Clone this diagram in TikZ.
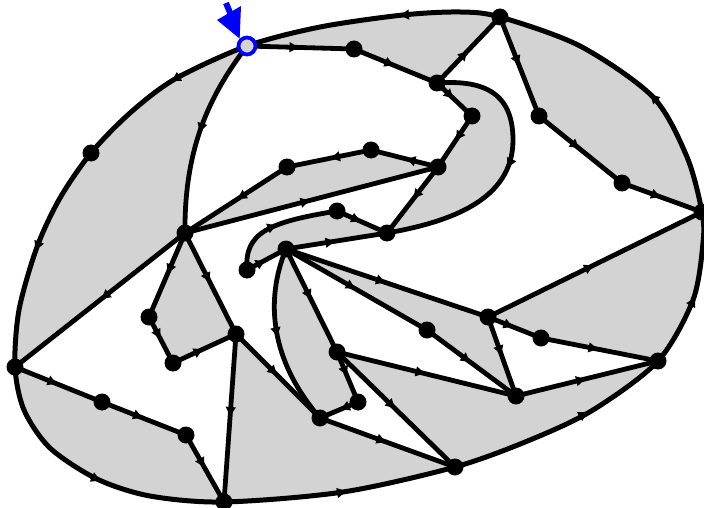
\documentclass[tikz,border=0pt]{standalone}
\usetikzlibrary{arrows.meta,decorations.markings}
\definecolor{facegray}{RGB}{211,211,211}
\begin{document}
\begin{tikzpicture}[x=1pt,y=-1pt,line join=round,
  edge/.style={line width=4.8pt,postaction={decorate},
    decoration={markings,mark=at position 0.5 with {\arrow{Latex[length=11pt,width=11pt]}}}},
  ovarr/.style={line width=4.8pt,-{Latex[length=11pt,width=11pt]}},
  dot/.style={circle,fill=black,inner sep=0pt,minimum size=17pt}]
\useasboundingbox (0,0) rectangle (704,508);
\def\ovalpath{plot[smooth cycle] coordinates {(247,46) (320,27) (403,15) (460,12) (500,17) (580,46) (653,97) (687,157) (702,212) (703,243) (693,300) (658,361) (593,410) (530,440) (455,467) (343,492) (224,502) (150,496) (97,479) (50,448) (24,410) (15,367) (19,310) (37,247) (60,198) (91,153) (130,113) (175,79)}}
% vertices
\coordinate (S) at (247,46);
\coordinate (A) at (354,49);
\coordinate (B) at (500,17);
\coordinate (C) at (437,83);
\coordinate (D) at (472,116);
\coordinate (E) at (539,116);
\coordinate (F) at (622,183);
\coordinate (G) at (702,212);
\coordinate (H) at (438,167);
\coordinate (I) at (371,150);
\coordinate (J) at (287,167);
\coordinate (K) at (185,233);
\coordinate (L) at (91,153);
\coordinate (M) at (337,211);
\coordinate (N) at (387,233);
\coordinate (O) at (247,270);
\coordinate (P) at (286,249);
\coordinate (Q) at (149,317);
\coordinate (R) at (173,363);
\coordinate (T) at (236,334);
\coordinate (U) at (15,367);
\coordinate (V) at (102,402);
\coordinate (W) at (186,435);
\coordinate (X) at (224,502);
\coordinate (Y) at (455,467);
\coordinate (Z) at (320,418);
\coordinate (AA) at (358,402);
\coordinate (AB) at (337,352);
\coordinate (AC) at (427,330);
\coordinate (AD) at (488,317);
\coordinate (AE) at (541,338);
\coordinate (AF) at (658,361);
\coordinate (AG) at (516,396);
% gray faces touching the outer curve
\begin{scope}
\clip \ovalpath;
\fill[facegray] (S) -- (A) -- (C) -- (B) -- (510,-20) -- (240,-20) -- cycle;
\fill[facegray] (B) -- (E) -- (F) -- (G) -- (720,212) -- (720,-20) -- (500,-20) -- cycle;
\fill[facegray] (S) .. controls (212,92) and (184,145) .. (K) -- (U) -- (-10,367) -- (-10,46) -- cycle;
\fill[facegray] (U) -- (V) -- (W) -- (X) -- (224,530) -- (-10,530) -- (-10,367) -- cycle;
\fill[facegray] (T) -- (Z) -- (Y) -- (460,530) -- (224,530) -- (X) -- cycle;
\fill[facegray] (AD) -- (G) -- (720,212) -- (720,362) -- (AF) -- (AE) -- cycle;
\fill[facegray] (AB) -- (AG) -- (AF) -- (720,400) -- (470,530) -- (Y) -- cycle;
\end{scope}
% inner gray faces
\fill[facegray] (K) -- (J) -- (I) -- (H) -- cycle;
\fill[facegray] (C) -- (D) -- (H) -- (N) .. controls (450,222) and (513,200) .. (513,140) .. controls (513,90) and (480,80) .. (C) -- cycle;
\fill[facegray] (O) .. controls (244,232) and (270,222) .. (M) -- (N) -- (P) -- cycle;
\fill[facegray] (K) -- (Q) -- (R) -- (T) -- cycle;
\fill[facegray] (P) .. controls (265,300) and (270,360) .. (Z) -- (AA) -- (AB) -- cycle;
\fill[facegray] (P) -- (AC) -- (AG) -- (AD) -- cycle;
% outer curve
\draw[line width=5pt] \ovalpath;
\draw[ovarr] (410,14.5) -- (398,15.5);
\draw[ovarr] (181,75.5) -- (170,82);
\draw[ovarr] (39.5,241) -- (35,252);
\draw[ovarr] (91,476.5) -- (102,481.5);
\draw[ovarr] (337,493) -- (348,491);
\draw[ovarr] (579,417) -- (589,411);
\draw[ovarr] (690.5,306) -- (696,296);
\draw[ovarr] (657.5,101.5) -- (649,93);
% edges
\draw[edge] (S) -- (A);
\draw[edge] (A) -- (C);
\draw[edge] (C) -- (B);
\draw[edge] (B) -- (E);
\draw[edge] (E) -- (F);
\draw[edge] (F) -- (G);
\draw[edge] (C) -- (D);
\draw[edge] (D) -- (H);
\draw[edge] (C) .. controls (480,80) and (513,90) .. (513,140) .. controls (513,200) and (450,222) .. (N);
\draw[edge] (H) -- (I);
\draw[edge] (I) -- (J);
\draw[edge] (J) -- (K);
\draw[edge] (K) -- (H);
\draw[edge] (H) -- (N);
\draw[edge] (S) .. controls (212,92) and (184,145) .. (K);
\draw[edge] (K) -- (U);
\draw[edge] (K) -- (Q);
\draw[edge] (Q) -- (R);
\draw[edge] (R) -- (T);
\draw[edge] (K) -- (T);
\draw[edge] (T) -- (X);
\draw[edge] (U) -- (V);
\draw[edge] (V) -- (W);
\draw[edge] (W) -- (X);
\draw[edge] (T) -- (Z);
\draw[edge] (M) -- (N);
\draw[edge] (O) .. controls (244,232) and (270,222) .. (M);
\draw[edge] (P) -- (N);
\draw[edge] (O) -- (P);
\draw[edge] (P) .. controls (265,300) and (270,360) .. (Z);
\draw[edge] (P) -- (AB);
\draw[edge] (AB) -- (AA);
\draw[edge] (AA) -- (Z);
\draw[edge] (Z) -- (Y);
\draw[edge] (AB) -- (Y);
\draw[edge] (AB) -- (AG);
\draw[edge] (P) -- (AC);
\draw[edge] (AC) -- (AG);
\draw[edge] (P) -- (AD);
\draw[edge] (AD) -- (AG);
\draw[edge] (AD) -- (G);
\draw[edge] (AD) -- (AE);
\draw[edge] (AE) -- (AF);
\draw[edge] (AG) -- (AF);
% vertices
\foreach \v in {A,B,C,D,E,F,G,H,I,J,K,L,M,N,O,P,Q,R,T,U,V,W,X,Y,Z,AA,AB,AC,AD,AE,AF,AG}
  \node[dot] (d\v) at (\v) {};
\node[circle,draw=blue,line width=3.8pt,fill=facegray,inner sep=0pt,minimum size=17pt] (dS) at (S) {};
% root arrow
\coordinate (root) at (226,3);
\coordinate (headbase) at (231,15);
\draw[blue,line width=6pt] (root) -- (headbase);
\fill[blue] (217,20) -- (241,6) -- (dS.north west) -- cycle;
\end{tikzpicture}
\end{document}
